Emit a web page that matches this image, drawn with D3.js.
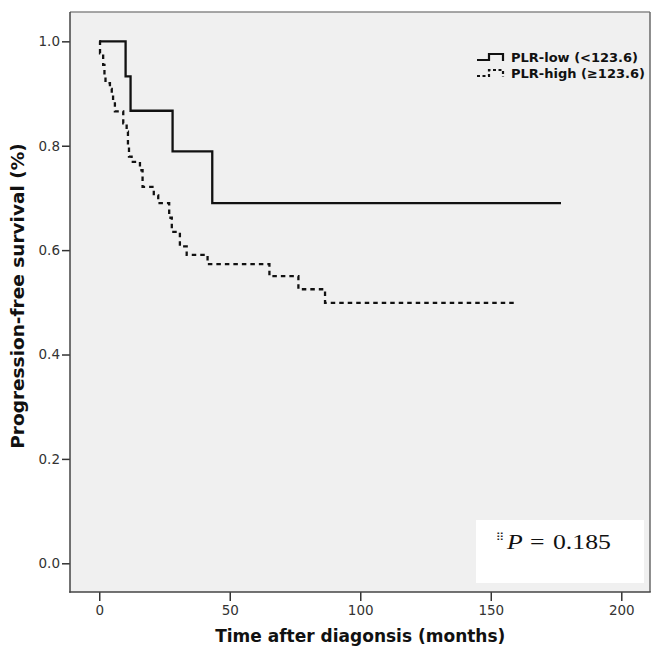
<!DOCTYPE html>
<html>
<head>
<meta charset="utf-8">
<script src="https://cdn.jsdelivr.net/npm/d3@7"></script>
<style>
  html, body { margin: 0; padding: 0; background: #ffffff; }
  svg { display: block; }
</style>
</head>
<body>
<div id="chart"></div>
<script>
// ---- Data ----
const lowTime  = [0, 10.1, 12.0, 28.1, 43.3, 176.9];
const lowSurv  = [1.0, 0.933, 0.867, 0.789, 0.690, 0.690];

const highTime = [0, 0.3, 1.5, 2.0, 2.4, 4.1, 4.8, 5.3, 6.0, 9.2, 10.5, 11.0, 11.4, 12.4, 15.6, 16.6, 20.9, 22.6, 26.8, 27.8, 30.9, 33.5, 41.5, 65.2, 76.3, 86.5, 158.8];
const highSurv = [1.0, 0.977, 0.955, 0.932, 0.920, 0.909, 0.898, 0.886, 0.866, 0.843, 0.827, 0.800, 0.779, 0.769, 0.753, 0.721, 0.705, 0.690, 0.662, 0.635, 0.607, 0.591, 0.573, 0.550, 0.525, 0.499, 0.499];

const xTicks = [0, 50, 100, 150, 200];
const yTicks = [0.0, 0.2, 0.4, 0.6, 0.8, 1.0];
const seriesNames = ["PLR-low (<123.6)", "PLR-high (\u2265123.6)"];
const xTitle = "Time after diagonsis (months)";
const yTitle = "Progression-free survival (%)";
const pLabel = "0.185";

// ---- Layout ----
const W = 657, H = 659;
const frame = { left: 70, right: 650, top: 12, bottom: 592 };

const x = d3.scaleLinear().domain([-11.2, 211.0]).range([frame.left, frame.right]);
const y = d3.scaleLinear().domain([-0.055, 1.0562]).range([frame.bottom, frame.top]);

const svg = d3.select("#chart").append("svg")
  .attr("width", W).attr("height", H);

// plot background
svg.append("rect")
  .attr("x", frame.left).attr("y", frame.top)
  .attr("width", frame.right - frame.left).attr("height", frame.bottom - frame.top)
  .attr("fill", "#f0f0f0");

// P-value box
const pBox = svg.append("g");
pBox.append("rect")
  .attr("x", 476).attr("y", 520).attr("width", 168).attr("height", 63)
  .attr("fill", "#ffffff");
pBox.append("text")
  .attr("x", 496).attr("y", 541)
  .attr("font-family", "DejaVu Sans").attr("font-size", 11)
  .attr("fill", "#222")
  .text("\u283F");
const pText = pBox.append("g").attr("transform", "translate(507,549) scale(1.17,1)");
pText.append("text")
  .attr("x", 0).attr("y", 0)
  .attr("font-family", "Liberation Serif, Times New Roman, serif")
  .attr("font-size", 22).attr("font-style", "italic").attr("fill", "#111")
  .text("P");
pText.append("text")
  .attr("x", (530 - 507) / 1.17).attr("y", 0)
  .attr("font-family", "Liberation Serif, Times New Roman, serif")
  .attr("font-size", 22).attr("fill", "#111")
  .text("=");
pText.append("text")
  .attr("x", (553 - 507) / 1.17).attr("y", 0)
  .attr("font-family", "Liberation Serif, Times New Roman, serif")
  .attr("font-size", 22).attr("fill", "#111")
  .text(pLabel);

// frame borders
svg.append("line").attr("x1", frame.left).attr("x2", frame.right)
  .attr("y1", frame.top).attr("y2", frame.top)
  .attr("stroke", "#8a8a8a").attr("stroke-width", 1.5);
svg.append("line").attr("x1", frame.right).attr("x2", frame.right)
  .attr("y1", frame.top).attr("y2", frame.bottom)
  .attr("stroke", "#6a6a6a").attr("stroke-width", 1.5);

// axes
const yAxis = d3.axisLeft(y).tickValues(yTicks).tickFormat(d3.format(".1f"))
  .tickSize(8).tickPadding(2);
const gy = svg.append("g").attr("transform", `translate(${frame.left},0)`).call(yAxis);
gy.select(".domain").remove();
gy.selectAll(".tick line").attr("stroke", "#333").attr("stroke-width", 1.5);
gy.selectAll(".tick text")
  .attr("font-family", "DejaVu Sans").attr("font-size", 13.5).attr("fill", "#333");

const xAxis = d3.axisBottom(x).tickValues(xTicks).tickFormat(d3.format("d"))
  .tickSize(9).tickPadding(4);
const gx = svg.append("g").attr("transform", `translate(0,${frame.bottom})`).call(xAxis);
gx.select(".domain").remove();
gx.selectAll(".tick line").attr("stroke", "#333").attr("stroke-width", 1.5);
gx.selectAll(".tick text")
  .attr("font-family", "DejaVu Sans").attr("font-size", 13.5).attr("fill", "#333");

svg.append("line").attr("x1", frame.left).attr("x2", frame.left)
  .attr("y1", frame.top).attr("y2", frame.bottom + 0.75)
  .attr("stroke", "#444").attr("stroke-width", 1.5);
svg.append("line").attr("x1", frame.left - 0.75).attr("x2", frame.right + 0.75)
  .attr("y1", frame.bottom).attr("y2", frame.bottom)
  .attr("stroke", "#444").attr("stroke-width", 1.5);

// survival curves
const line = d3.line()
  .x(d => x(d[0])).y(d => y(d[1]))
  .curve(d3.curveStepAfter);

const lowData = lowTime.map((t, i) => [t, lowSurv[i]]);
const highData = highTime.map((t, i) => [t, highSurv[i]]);

svg.append("path").datum(highData)
  .attr("d", line).attr("fill", "none")
  .attr("stroke", "#111").attr("stroke-width", 2.3)
  .attr("stroke-dasharray", "4.5,4");

svg.append("path").datum(lowData)
  .attr("d", line).attr("fill", "none")
  .attr("stroke", "#111").attr("stroke-width", 2.3);

// legend
const legend = svg.append("g");
const legendRows = [
  { name: seriesNames[0], dash: null, yb: 62 },
  { name: seriesNames[1], dash: "3,2.5", yb: 78 }
];
legendRows.forEach(r => {
  const p = d3.path();
  p.moveTo(477, r.yb - 2);
  p.lineTo(489, r.yb - 2);
  p.lineTo(489, r.yb - 8);
  p.lineTo(503, r.yb - 8);
  p.lineTo(503, r.yb - 1);
  legend.append("path").attr("d", p.toString())
    .attr("fill", "none").attr("stroke", "#111").attr("stroke-width", 2.2)
    .attr("stroke-dasharray", r.dash);
  legend.append("text")
    .attr("x", 511).attr("y", r.yb)
    .attr("font-family", "DejaVu Sans").attr("font-weight", "bold")
    .attr("font-size", 13).attr("fill", "#111")
    .text(r.name);
});

// axis titles
svg.append("text")
  .attr("x", (x(0) + x(200)) / 2).attr("y", 642)
  .attr("text-anchor", "middle")
  .attr("font-family", "DejaVu Sans").attr("font-weight", "bold")
  .attr("font-size", 17).attr("fill", "#111")
  .text(xTitle);

svg.append("text")
  .attr("transform", `translate(24,296) rotate(-90)`)
  .attr("text-anchor", "middle")
  .attr("font-family", "DejaVu Sans").attr("font-weight", "bold")
  .attr("font-size", 18.5).attr("fill", "#111")
  .text(yTitle);
</script>
</body>
</html>
